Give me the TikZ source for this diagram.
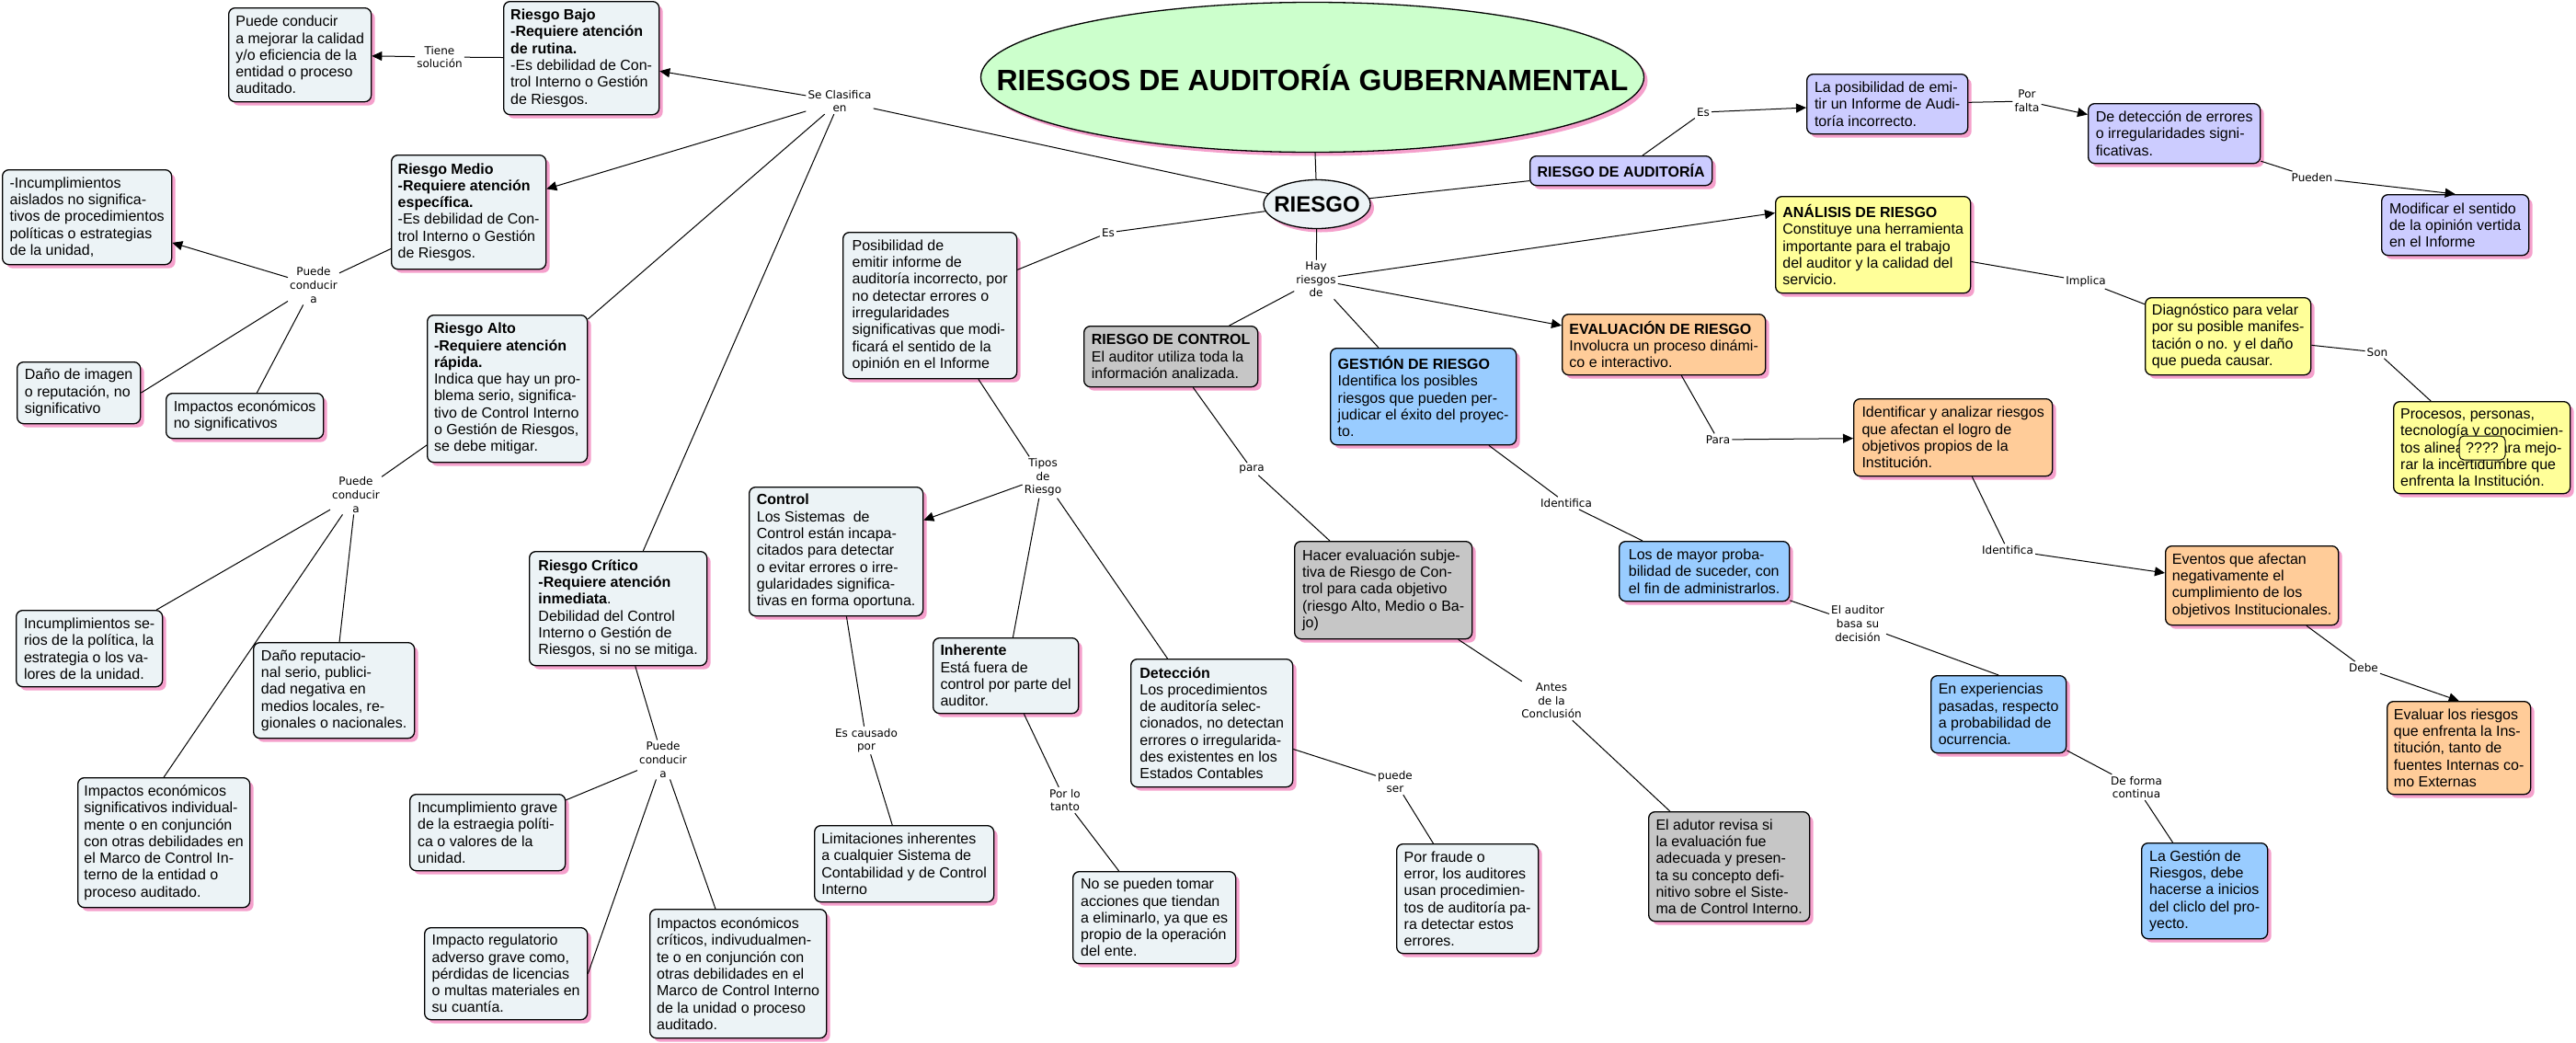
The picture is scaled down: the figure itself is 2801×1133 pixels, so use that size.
\documentclass[tikz,border=0pt]{standalone}
\usepackage{fontspec}
\setmainfont{Liberation Sans}
\newfontfamily\lblfont{DejaVu Sans}
\usetikzlibrary{shapes.geometric,arrows.meta,shadows}
\definecolor{light}{HTML}{ECF3F6}
\definecolor{grayb}{HTML}{C6C6C6}
\definecolor{lav}{HTML}{CCCCFF}
\definecolor{yel}{HTML}{FFFF99}
\definecolor{ora}{HTML}{FFCC99}
\definecolor{blu}{HTML}{99CCFF}
\definecolor{tgreen}{HTML}{CCFFCC}
\definecolor{shpink}{HTML}{F5A0CC}
\tikzset{
  pinkshadow/.style={drop shadow={shadow xshift=4pt,shadow yshift=-4pt,fill=shpink,opacity=1}},
  box/.style={draw=black,line width=1.3pt,rounded corners=7pt,fill=light,align=left,inner sep=0pt,
    font=\fontsize{16}{18.3}\selectfont,pinkshadow},
  qbox/.style={draw=black,line width=1pt,rounded corners=5pt,fill=yel,inner sep=0pt,
    minimum width=50pt,minimum height=26pt,font=\fontsize{16}{18.3}\selectfont},
  lbl/.style={align=center,inner sep=2pt,font=\lblfont\fontsize{12}{14.6}\selectfont},
  link/.style={draw=black,line width=1pt},
  arr/.style={link,-{Triangle[length=11pt,width=10pt]}},
}
\newcommand\mybox[7]{%
  \pgfmathsetmacro\bxw{#4-#2}\pgfmathsetmacro\bxh{#5-#3}%
  \node[box,#6,minimum width=\bxw pt,minimum height=\bxh pt,anchor=north west] (#1) at (#2,#3) {#7};}
\begin{document}
\begin{tikzpicture}[x=1pt,y=-1pt]
\useasboundingbox[fill=white] (0,0) rectangle (2801,1133);

% ellipses
\node[ellipse,draw=black,line width=1.3pt,fill=tgreen,minimum width=721pt,minimum height=163pt,
  inner xsep=-110pt,inner ysep=0pt,pinkshadow,font=\fontsize{32}{36}\selectfont\bfseries]
  (title) at (1427,84) {RIESGOS DE AUDITORÍA GUBERNAMENTAL};
\node[ellipse,draw=black,line width=1.3pt,fill=light,minimum width=116pt,minimum height=53pt,
  inner xsep=-14pt,inner ysep=-4pt,pinkshadow,font=\fontsize{24}{28}\selectfont\bfseries]
  (riesgo) at (1432,222) {RIESGO};

% left side boxes
\mybox{mej}{248}{8}{403}{110}{}{Puede conducir\\a mejorar la calidad\\y/o eficiencia de la\\entidad o proceso\\auditado.}
\mybox{rb}{547}{1}{716}{124}{}{\textbf{Riesgo Bajo}\\\textbf{-Requiere atención}\\\textbf{de rutina.}\\-Es debilidad de Con-\\trol Interno o Gestión\\de Riesgos.}
\mybox{rm}{425}{168}{593}{292}{}{\textbf{Riesgo Medio}\\\textbf{-Requiere atención}\\\textbf{específica.}\\-Es debilidad de Con-\\trol Interno o Gestión\\de Riesgos.}
\mybox{inca}{2}{184}{186}{287}{}{-Incumplimientos\\aislados no significa-\\tivos de procedimientos\\políticas o estrategias\\de la unidad,}
\mybox{di}{18}{393}{152}{460}{}{Daño de imagen\\o reputación, no\\significativo}
\mybox{ins}{180}{427}{351}{476}{}{Impactos económicos\\no significativos}
\mybox{ra}{464}{342}{638}{502}{}{\textbf{Riesgo Alto}\\\textbf{-Requiere atención}\\\textbf{rápida.}\\Indica que hay un pro-\\blema serio, significa-\\tivo de Control Interno\\o Gestión de Riesgos,\\se debe mitigar.}
\mybox{incs}{17}{663}{176}{746}{}{Incumplimientos se-\\rios de la política, la\\estrategia o los va-\\lores de la unidad.}
\mybox{drep}{275}{698}{450}{802}{}{Daño reputacio-\\nal serio, publici-\\dad negativa en\\medios locales, re-\\gionales o nacionales.}
\mybox{isig}{84}{845}{271}{986}{}{Impactos económicos\\significativos individual-\\mente o en conjunción\\con otras debilidades en\\el Marco de Control In-\\terno de la entidad o\\proceso auditado.}
\mybox{rc}{575}{599}{768}{723}{}{\textbf{Riesgo Crítico}\\\textbf{-Requiere atención}\\\textbf{inmediata}.\\Debilidad del Control\\Interno o Gestión de\\Riesgos, si no se mitiga.}
\mybox{ig}{445}{863}{614}{946}{}{Incumplimiento grave\\de la estraegia políti-\\ca o valores de la\\unidad.}
\mybox{ireg}{461}{1008}{638}{1108}{}{Impacto regulatorio\\adverso grave como,\\pérdidas de licencias\\o multas materiales en\\su cuantía.}
\mybox{icr}{706}{988}{898}{1128}{}{Impactos económicos\\críticos, indivudualmen-\\te o en conjunción con\\otras debilidades en el\\Marco de Control Interno\\de la unidad o proceso\\auditado.}

% middle boxes
\mybox{pos}{916}{252}{1105}{411}{}{Posibilidad de\\emitir informe de\\auditoría incorrecto, por\\no detectar errores o\\irregularidades\\significativas que modi-\\ficará el sentido de la\\opinión en el Informe}
\mybox{ctl}{814}{529}{1003}{669}{}{\textbf{Control}\\Los Sistemas\ \ de\\Control están incapa-\\citados para detectar\\o evitar errores o irre-\\gularidades significa-\\tivas en forma oportuna.}
\mybox{lim}{885}{897}{1080}{980}{}{Limitaciones inherentes\\a cualquier Sistema de\\Contabilidad y de Control\\Interno}
\mybox{inh}{1014}{693}{1172}{775}{}{\textbf{Inherente}\\Está fuera de\\control por parte del\\auditor.}
\mybox{nsp}{1166}{947}{1343}{1047}{}{No se pueden tomar\\acciones que tiendan\\a eliminarlo, ya que es\\propio de la operación\\del ente.}
\mybox{det}{1229}{716}{1405}{855}{}{\textbf{Detección}\\Los procedimientos\\de auditoría selec-\\cionados, no detectan\\errores o irregularida-\\des existentes en los\\Estados Contables}
\mybox{pfr}{1518}{917}{1672}{1036}{}{Por fraude o\\error, los auditores\\usan procedimien-\\tos de auditoría pa-\\ra detectar estos\\errores.}
\mybox{rdc}{1178}{354}{1367}{420}{fill=grayb}{\textbf{RIESGO DE CONTROL}\\El auditor utiliza toda la\\información analizada.}
\mybox{hac}{1407}{588}{1600}{694}{fill=grayb}{Hacer evaluación subje-\\tiva de Riesgo de Con-\\trol para cada objetivo\\(riesgo Alto, Medio o Ba-\\jo)}
\mybox{adu}{1792}{882}{1967}{1001}{fill=grayb}{El adutor revisa si\\la evaluación fue\\adecuada y presen-\\ta su concepto defi-\\nitivo sobre el Siste-\\ma de Control Interno.}
\mybox{ges}{1446}{378}{1648}{483}{fill=blu}{\textbf{GESTIÓN DE RIESGO}\\Identifica los posibles\\riesgos que pueden per-\\judicar el éxito del proyec-\\to.}
\mybox{lmay}{1760}{588}{1945}{653}{fill=blu}{Los de mayor proba-\\bilidad de suceder, con\\el fin de administrarlos.}
\mybox{exp}{2099}{734}{2246}{818}{fill=blu}{En experiencias\\pasadas, respecto\\a probabilidad de\\ocurrencia.}
\mybox{lag}{2328}{916}{2465}{1020}{fill=blu}{La Gestión de\\Riesgos, debe\\hacerse a inicios\\del cliclo del pro-\\yecto.}
\mybox{eva}{1698}{341}{1919}{407}{fill=ora}{\textbf{EVALUACIÓN DE RIESGO}\\Involucra un proceso dinámi-\\co e interactivo.}
\mybox{ide}{2015}{433}{2231}{517}{fill=ora}{Identificar y analizar riesgos\\que afectan el logro de\\objetivos propios de la\\Institución.}
\mybox{evn}{2354}{593}{2542}{679}{fill=ora}{Eventos que afectan\\negativamente el\\cumplimiento de los\\objetivos Institucionales.}
\mybox{evl}{2595}{762}{2751}{863}{fill=ora}{Evaluar los riesgos\\que enfrenta la Ins-\\titución, tanto de\\fuentes Internas co-\\mo Externas}
\mybox{an}{1930}{213}{2142}{318}{fill=yel}{\textbf{ANÁLISIS DE RIESGO}\\Constituye una herramienta\\importante para el trabajo\\del auditor y la calidad del\\servicio.}
\mybox{dia}{2332}{323}{2512}{407}{fill=yel}{Diagnóstico para velar\\por su posible manifes-\\tación o no. y el daño\\que pueda causar.}
\mybox{pro}{2602}{436}{2794}{536}{fill=yel}{Procesos, personas,\\tecnología y conocimien-\\tos alineados para mejo-\\rar la incertidumbre que\\enfrenta la Institución.}
\node[qbox] (qq) at (2699,487) {????};
\mybox{rda}{1663}{169}{1861}{201}{fill=lav}{\textbf{RIESGO DE AUDITORÍA}}
\mybox{lpos}{1964}{80}{2139}{145}{fill=lav}{La posibilidad de emi-\\tir un Informe de Audi-\\toría incorrecto.}
\mybox{dde}{2270}{112}{2457}{177}{fill=lav}{De detección de errores\\o irregularidades signi-\\ficativas.}
\mybox{mod}{2589}{211}{2749}{277}{fill=lav}{Modificar el sentido\\de la opinión vertida\\en el Informe}

% link labels
\node[lbl] (sc) at (913,110) {Se Clasifica\\en};
\node[lbl] (ts) at (478,62) {Tiene\\solución};
\node[lbl] (pc1) at (341,310) {Puede\\conducir\\a};
\node[lbl] (pc2) at (387,538) {Puede\\conducir\\a};
\node[lbl] (pc3) at (721,826) {Puede\\conducir\\a};
\node[lbl] (es1) at (1205,253) {Es};
\node[lbl] (tr) at (1134,519) {Tipos\\de\\Riesgo};
\node[lbl] (ec) at (942,805) {Es causado\\por};
\node[lbl] (plt) at (1158,870) {Por lo\\tanto};
\node[lbl] (ps) at (1517,850) {puede\\ser};
\node[lbl] (hr) at (1431,304) {Hay\\riesgos\\de};
\node[lbl] (para1) at (1361,510) {para};
\node[lbl] (adc) at (1687,762) {Antes\\de la\\Conclusión};
\node[lbl] (id1) at (1703,547) {Identifica};
\node[lbl] (eab) at (2020,678) {El auditor\\basa su\\decisión};
\node[lbl] (dfc) at (2323,856) {De forma\\continua};
\node[lbl] (es2) at (1852,122) {Es};
\node[lbl] (pf) at (2204,110) {Por\\falta};
\node[lbl] (pu) at (2514,193) {Pueden};
\node[lbl] (im) at (2268,306) {Implica};
\node[lbl] (so) at (2585,383) {Son};
\node[lbl] (pa2) at (1868,478) {Para};
\node[lbl] (id2) at (2183,598) {Identifica};
\node[lbl] (de) at (2570,726) {Debe};

% connectors
\draw[link] (riesgo) -- (sc);
\draw[arr] (sc) -- (rb);
\draw[arr] (sc) -- (rm);
\draw[link] (sc) -- (ra);
\draw[link] (sc) -- (rc);
\draw[link] (rb) -- (ts);
\draw[arr] (ts) -- (mej);
\draw[link] (rm) -- (pc1);
\draw[arr] (pc1) -- (inca);
\draw[link] (pc1) -- (di.east);
\draw[link] (pc1) -- (ins);
\draw[link] (ra) -- (pc2);
\draw[link] (pc2) -- (incs);
\draw[link] (pc2) -- (isig.north);
\draw[link] (pc2) -- (drep);
\draw[link] (rc) -- (pc3);
\draw[link] (pc3) -- (ig);
\draw[link] (pc3) -- (ireg.east);
\draw[link] (pc3) -- (icr);
\draw[link] (title) -- (riesgo);
\draw[link] (riesgo) -- (es1);
\draw[link] (es1) -- (pos);
\draw[link] (pos) -- (tr);
\draw[arr] (tr) -- (ctl);
\draw[link] (tr) -- (inh);
\draw[link] (tr) -- (det);
\draw[link] (ctl) -- (ec);
\draw[link] (ec) -- (lim);
\draw[link] (inh) -- (plt);
\draw[link] (plt) -- (nsp);
\draw[link] (det) -- (ps);
\draw[link] (ps) -- (pfr);
\draw[link] (riesgo) -- (hr);
\draw[link] (hr) -- (rdc);
\draw[link] (hr) -- (ges);
\draw[arr] (hr) -- (an.162);
\draw[arr] (hr) -- (eva);
\draw[link] (rdc) -- (para1);
\draw[link] (para1) -- (hac);
\draw[link] (hac) -- (adc);
\draw[link] (adc) -- (adu);
\draw[link] (ges) -- (id1);
\draw[link] (id1) -- (lmay);
\draw[link] (lmay) -- (eab);
\draw[link] (eab) -- (exp.north);
\draw[link] (exp) -- (dfc);
\draw[link] (dfc) -- (lag);
\draw[link] (riesgo) -- (rda);
\draw[link] (rda) -- (es2);
\draw[arr] (es2) -- (lpos);
\draw[link] (lpos) -- (pf);
\draw[arr] (pf) -- (dde);
\draw[link] (dde) -- (pu);
\draw[arr] (pu) -- (mod.north);
\draw[link] (an) -- (im);
\draw[link] (im) -- (dia);
\draw[link] (dia) -- (so);
\draw[link] (so) -- (pro);
\draw[link] (eva) -- (pa2);
\draw[arr] (pa2) -- (ide);
\draw[link] (ide) -- (id2);
\draw[arr] (id2) -- (evn);
\draw[link] (evn) -- (de);
\draw[arr] (de) -- (evl.north);
\end{tikzpicture}
\end{document}
